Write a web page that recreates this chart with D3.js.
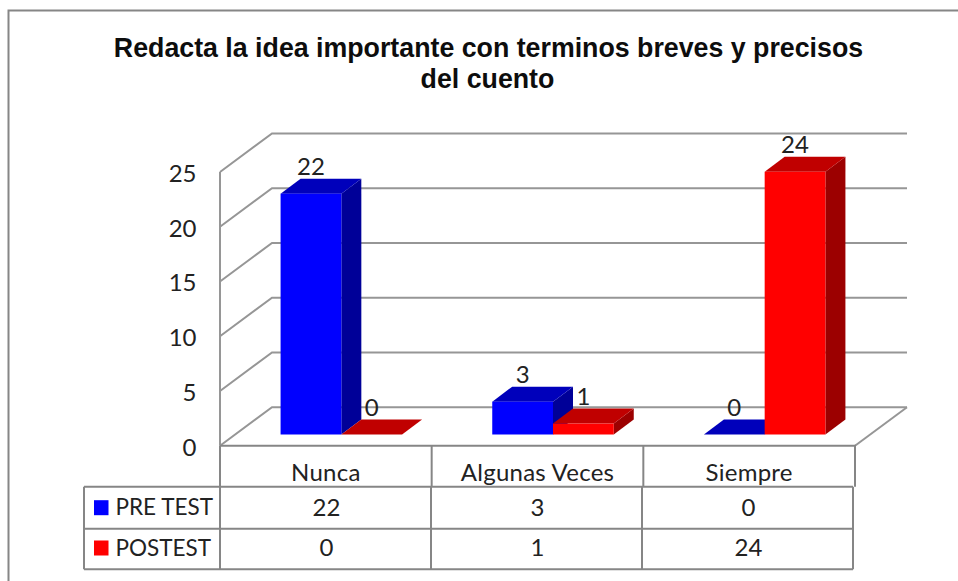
<!DOCTYPE html>
<html>
<head>
<meta charset="utf-8">
<script src="https://cdnjs.cloudflare.com/ajax/libs/d3/7.8.5/d3.min.js"></script>
<style>
  html, body { margin: 0; padding: 0; background: #fff; overflow: hidden; }
  svg { display: block; }
  .title { font: bold 26.75px "Liberation Sans", Arial, sans-serif; fill: #0d0d0d; text-anchor: middle; }
  .lbl { font: 24px Lato, sans-serif; fill: #222; }
  .legend-lbl { font: 22.5px Lato, sans-serif; fill: #222; }
  .grid { stroke: #969696; stroke-width: 2px; fill: none; }
  .tbl { stroke: #868686; stroke-width: 2px; fill: none; }
</style>
</head>
<body>
<script>
var titleLines = ["Redacta la idea importante con terminos breves y precisos", "del cuento"];
var categories = ["Nunca", "Algunas Veces", "Siempre"];
var seriesNames = ["PRE TEST", "POSTEST"];
var preTest = [22, 3, 0];
var posTest = [0, 1, 24];
var yTicks = [0, 5, 10, 15, 20, 25];

var seriesValues = [preTest, posTest];
var colors = [
  {front: "#0000ff", top: "#0000bb", side: "#000098"},
  {front: "#ff0000", top: "#c00000", side: "#9c0000"}
];

var width = 958, height = 581;

// 3d offset of the back wall from the front plane
var wallX = 52, wallY = 38.5;
// bars stand a bit behind the front plane and have their own depth
var barShiftX = 15.5, barShiftY = 11.2;
var barDepthX = 20, barDepthY = 15;

var x = d3.scaleBand().domain(categories).range([220, 855]);
var y = d3.scaleLinear().domain([0, 25]).range([445.7, 172]);
var tableX = d3.scaleBand().domain(categories).range([220, 853]);

// the two bars share 122px in the middle of each band
var groupWidth = 121.5;
var xSeries = d3.scaleBand().domain(d3.range(seriesNames.length)).range([0, groupWidth]);

var svg = d3.select("body").append("svg")
    .attr("width", width)
    .attr("height", height);

// chart border, open on the right and bottom
svg.append("path")
    .attr("class", "tbl")
    .attr("d", d3.line()([[8.5, 581], [8.5, 10.5], [958, 10.5]]));

// title
svg.selectAll(".title")
    .data(titleLines)
  .enter().append("text")
    .attr("class", "title")
    .attr("x", function(d, i) { return i == 0 ? 488.5 : 487.5; })
    .attr("y", function(d, i) { return 57 + i * 30.5; })
    .text(function(d) { return d; });

// walls and floor
var left = x.range()[0], right = x.range()[1];
var grid = svg.append("g");
grid.selectAll(".back")
    .data(yTicks)
  .enter().append("path")
    .attr("class", "grid")
    .attr("d", function(d) {
      return d3.line()([[left, y(d)], [left + wallX, y(d) - wallY], [right + wallX, y(d) - wallY]]);
    });
grid.append("path")
    .attr("class", "grid")
    .attr("d", d3.line()([[left, y(25)], [left, y(0)]]));
grid.append("path")
    .attr("class", "grid")
    .attr("d", d3.line()([[right, y(0)], [right + wallX, y(0) - wallY]]));

// y axis labels
var yAxis = svg.append("g")
    .attr("transform", "translate(" + left + ",0)")
    .call(d3.axisLeft(y).tickValues(yTicks).tickSize(0).tickPadding(23.5));
yAxis.select(".domain").remove();
yAxis.selectAll("text")
    .attr("class", "lbl")
    .attr("dy", "9.3px")
    .style("font-family", "Lato, sans-serif")
    .style("font-size", "24px");

// bars
var bars = [];
categories.forEach(function(c, ci) {
  seriesNames.forEach(function(s, si) {
    bars.push({cat: c, series: si, value: seriesValues[si][ci]});
  });
});

function barX(d) {
  return x(d.cat) + (x.bandwidth() - groupWidth) / 2 + xSeries(d.series) + barShiftX;
}

var bar = svg.selectAll(".bar")
    .data(bars)
  .enter().append("g")
    .attr("class", "bar");

bar.append("path")
    .attr("fill", function(d) { return colors[d.series].side; })
    .attr("d", function(d) {
      var r = barX(d) + xSeries.bandwidth(), b = y(0) - barShiftY, t = y(d.value) - barShiftY;
      return d3.line()([[r, b], [r, t], [r + barDepthX, t - barDepthY], [r + barDepthX, b - barDepthY]]) + "Z";
    });
bar.append("path")
    .attr("fill", function(d) { return colors[d.series].top; })
    .attr("d", function(d) {
      var l = barX(d), r = l + xSeries.bandwidth(), t = y(d.value) - barShiftY;
      return d3.line()([[l, t], [r, t], [r + barDepthX, t - barDepthY], [l + barDepthX, t - barDepthY]]) + "Z";
    });
bar.append("rect")
    .attr("fill", function(d) { return colors[d.series].front; })
    .attr("x", barX)
    .attr("y", function(d) { return y(d.value) - barShiftY; })
    .attr("width", xSeries.bandwidth())
    .attr("height", function(d) { return y(0) - y(d.value); });

// value labels
bar.append("text")
    .attr("class", "lbl")
    .attr("text-anchor", "middle")
    .attr("x", function(d) { return barX(d) + xSeries.bandwidth() / 2; })
    .attr("y", function(d) { return y(d.value) - barShiftY - barDepthY - 3.5; })
    .text(function(d) { return d.value; });

// data table
var rowY = [486.7, 528.7, 569.3];
var table = svg.append("g");

// category header row
table.append("path")
    .attr("class", "tbl")
    .attr("d", d3.line()([[left, y(0)], [right, y(0)], [right, rowY[0]]]));
x.domain().forEach(function(c) {
  table.append("path")
      .attr("class", "tbl")
      .attr("d", d3.line()([[x(c), y(0)], [x(c), rowY[0]]]));
  table.append("text")
      .attr("class", "lbl")
      .attr("text-anchor", "middle")
      .attr("letter-spacing", "0.25px")
      .attr("x", x(c) + x.bandwidth() / 2)
      .attr("y", 480.5)
      .text(c);
});

// body rows
var tableLeft = 84, tableRight = tableX.range()[1];
rowY.forEach(function(ry) {
  table.append("path")
      .attr("class", "tbl")
      .attr("d", d3.line()([[tableLeft, ry], [tableRight, ry]]));
});
[tableLeft].concat(categories.map(function(c) { return tableX(c); }), [tableRight]).forEach(function(vx) {
  table.append("path")
      .attr("class", "tbl")
      .attr("d", d3.line()([[vx, rowY[0]], [vx, rowY[2]]]));
});

seriesNames.forEach(function(s, si) {
  var mid = (rowY[si] + rowY[si + 1]) / 2;
  table.append("rect")
      .attr("x", 94)
      .attr("y", mid - 7.5 - si)
      .attr("width", 14.5)
      .attr("height", 15)
      .attr("fill", colors[si].front);
  table.append("text")
      .attr("class", "legend-lbl")
      .attr("x", 115.5)
      .attr("y", mid + 7.5 - si)
      .text(s);
  categories.forEach(function(c, ci) {
    table.append("text")
        .attr("class", "lbl")
        .attr("text-anchor", "middle")
        .attr("x", tableX(c) + tableX.bandwidth() / 2 + 1)
        .attr("y", mid + 8 - si)
        .text(seriesValues[si][ci]);
  });
});
</script>
</body>
</html>
